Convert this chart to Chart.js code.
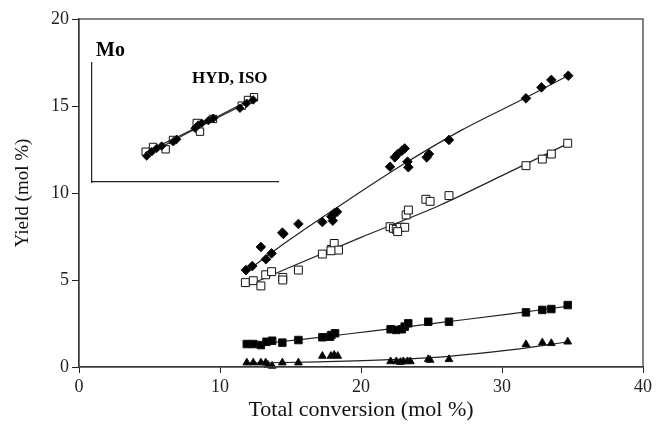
<!DOCTYPE html>
<html>
<head>
<meta charset="utf-8">
<script src="https://cdn.jsdelivr.net/npm/chart.js@4.4.1/dist/chart.umd.min.js"></script>
<style>
  html, body { margin: 0; padding: 0; background: #fff; }
  #wrap { position: relative; width: 656px; height: 428px; }
  #main { position: absolute; left: 0; top: 0; }
  #inset { position: absolute; left: 82px; top: 55px; }
  .lbl { position: absolute; font-family: "Liberation Serif", serif; font-weight: bold; color: #000; white-space: nowrap; }
</style>
</head>
<body>
<div id="wrap">
  <canvas id="main" width="656" height="428"></canvas>
  <canvas id="inset" width="206" height="137"></canvas>
  <div class="lbl" style="left:96px; top:38px; font-size:20px;">Mo</div>
  <div class="lbl" style="left:192px; top:68px; font-size:17px;">HYD, ISO</div>
</div>
<script>
// ---- main plot data (x = total conversion, y = yield, mol %) ----
const diamondX = [11.84, 12.29, 12.9, 13.26, 13.66, 14.42, 14.5, 15.56, 17.26, 17.9, 18.1, 18.3, 18.0,
                  22.06, 22.4, 22.6, 22.9, 23.1, 23.3, 23.36, 24.66, 24.82, 26.24, 31.7, 32.8, 33.5, 34.7];
const diamondY = [5.57, 5.80, 6.9, 6.19, 6.53, 7.72, 7.65, 8.22, 8.33, 8.64, 8.83, 8.92, 8.41,
                  11.51, 12.05, 12.24, 12.43, 12.56, 11.8, 11.48, 12.05, 12.24, 13.05, 15.44, 16.07, 16.5, 16.74];

const openSqX = [11.8, 12.36, 12.9, 13.24, 13.66, 14.45, 14.45, 15.56, 17.26, 17.9, 18.1, 18.4, 17.87,
                 22.06, 22.3, 22.5, 22.77, 23.1, 22.6, 23.2, 23.36, 24.6, 24.9, 26.24, 31.7, 32.86, 33.5, 34.66];
const openSqY = [4.85, 4.96, 4.66, 5.3, 5.48, 5.15, 5.0, 5.57, 6.49, 6.76, 7.1, 6.72, 6.68,
                 8.06, 7.97, 7.91, 8.03, 8.03, 7.78, 8.74, 9.02, 9.64, 9.52, 9.85, 11.57, 11.95, 12.24, 12.86];

const fillSqX = [11.9, 12.36, 12.9, 13.3, 13.7, 14.42, 15.56, 17.26, 17.9, 18.16, 17.8,
                 22.1, 22.5, 22.9, 23.1, 23.35, 24.77, 26.24, 31.7, 32.86, 33.5, 34.66];
const fillSqY = [1.32, 1.32, 1.26, 1.45, 1.51, 1.40, 1.55, 1.71, 1.84, 1.94, 1.74,
                 2.17, 2.13, 2.17, 2.32, 2.51, 2.6, 2.6, 3.14, 3.28, 3.33, 3.56];

const triX = [11.9, 12.36, 12.9, 13.24, 13.4, 13.7, 14.42, 15.56, 17.26, 17.87, 18.1, 18.35,
              22.1, 22.5, 22.8, 23.0, 23.3, 23.5, 24.77, 24.9, 26.24, 31.7, 32.86, 33.5, 34.66];
const triY = [0.25, 0.25, 0.25, 0.25, 0.11, 0.06, 0.25, 0.25, 0.63, 0.63, 0.69, 0.63,
              0.32, 0.32, 0.28, 0.32, 0.32, 0.32, 0.44, 0.40, 0.44, 1.30, 1.40, 1.36, 1.45];

// trend lines
const fitDiamondX = [11.8, 15.0, 19.1, 23.0, 27.1, 31.75, 34.7];
const fitDiamondY = [5.45, 7.35, 9.6, 11.65, 13.6, 15.5, 16.75];
const fitOpenX = [11.8, 15.0, 20.0, 25.6, 30.0, 34.7];
const fitOpenY = [4.62, 5.75, 7.45, 9.3, 11.0, 12.85];
const fitFillX = [11.8, 16.0, 20.6, 25.6, 30.6, 34.7];
const fitFillY = [1.25, 1.6, 2.05, 2.55, 3.05, 3.5];
const fitTriX = [11.8, 17.0, 22.0, 26.0, 30.6, 34.7];
const fitTriY = [0.22, 0.3, 0.42, 0.6, 0.98, 1.45];

const xTicks = [0, 10, 20, 30, 40];
const yTicks = [0, 5, 10, 15, 20];

// ---- inset (Mo, HYD vs ISO) ----
const insetDiaX = [5.88, 6.42, 6.96, 7.49, 8.74, 9.11, 11.08, 11.43, 11.80, 12.51, 13.04, 15.91, 16.63, 17.34];
const insetDiaY = [2.84, 3.31, 3.68, 3.93, 4.40, 4.67, 5.87, 6.23, 6.42, 6.70, 6.96, 8.05, 8.60, 8.96];
const insetSqX = [5.77, 6.56, 7.92, 8.71, 11.26, 11.61, 13.01, 16.10, 16.77, 17.42];
const insetSqY = [3.31, 3.83, 3.57, 4.59, 6.45, 5.50, 6.89, 8.34, 8.96, 9.26];
const insetFitDiaX = [5.7, 11.5, 17.4];
const insetFitDiaY = [2.85, 6.0, 9.0];
const insetFitSqX = [5.7, 11.5, 17.4];
const insetFitSqY = [3.2, 6.1, 9.2];

const pts = (xs, ys) => xs.map((x, i) => ({ x, y: ys[i] }));
const FONT = "'Liberation Serif', 'Times New Roman', serif";

function markers(data, style, radius, fill) {
  return { data, pointStyle: style, pointRadius: radius, pointHoverRadius: radius,
           backgroundColor: fill, borderColor: "#111", borderWidth: 1, showLine: false, clip: false };
}
function fitLine(data) {
  return { data, showLine: true, pointRadius: 0, borderColor: "#222", borderWidth: 1.2,
           cubicInterpolationMode: "monotone", fill: false };
}

const frame = {
  id: "frame",
  afterDraw(c) {
    const a = c.chartArea, ctx = c.ctx;
    ctx.save();
    ctx.strokeStyle = "#444"; ctx.lineWidth = 1.3;
    ctx.strokeRect(a.left, a.top, a.right - a.left, a.bottom - a.top);
    ctx.restore();
  }
};

new Chart(document.getElementById("main"), {
  type: "scatter",
  data: { datasets: [
    markers(pts(diamondX, diamondY), "rectRot", 4.8, "#000"),
    markers(pts(openSqX, openSqY), "rect", 5.6, "#fff"),
    markers(pts(fillSqX, fillSqY), "rect", 5.3, "#000"),
    markers(pts(triX, triY), "triangle", 4.5, "#000"),
    fitLine(pts(fitDiamondX, fitDiamondY)),
    fitLine(pts(fitOpenX, fitOpenY)),
    fitLine(pts(fitFillX, fitFillY)),
    fitLine(pts(fitTriX, fitTriY)),
  ]},
  options: {
    responsive: false, animation: false, events: [],
    layout: { padding: { left: 0, right: 13, top: 19, bottom: 0 } },
    plugins: { legend: { display: false }, tooltip: { enabled: false } },
    scales: {
      x: {
        type: "linear", min: 0, max: 40,
        afterBuildTicks: s => { s.ticks = xTicks.map(v => ({ value: v })); },
        afterFit: s => { s.height = 61; },
        grid: { display: true, drawOnChartArea: false, drawTicks: true, tickLength: 6, color: "#222" },
        border: { display: true, color: "#222", width: 1.3 },
        ticks: { color: "#222", padding: 3, font: { family: FONT, size: 18 } },
        title: { display: true, text: "Total conversion (mol %)", color: "#111",
                 font: { family: FONT, size: 22 }, padding: { top: 0, bottom: 5 } }
      },
      y: {
        type: "linear", min: 0, max: 20,
        afterBuildTicks: s => { s.ticks = yTicks.map(v => ({ value: v })); },
        afterFit: s => { s.width = 79; },
        grid: { display: true, drawOnChartArea: false, drawTicks: true, tickLength: 7, color: "#222" },
        border: { display: true, color: "#222", width: 1.3 },
        ticks: { color: "#222", padding: 3, font: { family: FONT, size: 18 } },
        title: { display: true, text: "Yield (mol %)", color: "#111",
                 font: { family: FONT, size: 19 }, padding: { top: 12, bottom: 0 } }
      }
    }
  },
  plugins: [frame]
});

new Chart(document.getElementById("inset"), {
  type: "scatter",
  data: { datasets: [
    markers(pts(insetDiaX, insetDiaY), "rectRot", 4.2, "#000"),
    markers(pts(insetSqX, insetSqY), "rect", 5.2, "rgba(255,255,255,0)"),
    fitLine(pts(insetFitDiaX, insetFitDiaY)),
    fitLine(pts(insetFitSqX, insetFitSqY)),
  ]},
  options: {
    responsive: false, animation: false, events: [],
    layout: { padding: { left: 10, right: 10, top: 8, bottom: 10 } },
    plugins: { legend: { display: false }, tooltip: { enabled: false } },
    scales: {
      x: { type: "linear", min: 0, max: 20, afterFit: s => { s.height = 0; },
           ticks: { display: false }, grid: { display: false, drawTicks: false },
           border: { display: true, color: "#222", width: 1.2 } },
      y: { type: "linear", min: 0, max: 13, afterFit: s => { s.width = 0; },
           ticks: { display: false }, grid: { display: false, drawTicks: false },
           border: { display: true, color: "#222", width: 1.2 } }
    }
  }
});
</script>
</body>
</html>
